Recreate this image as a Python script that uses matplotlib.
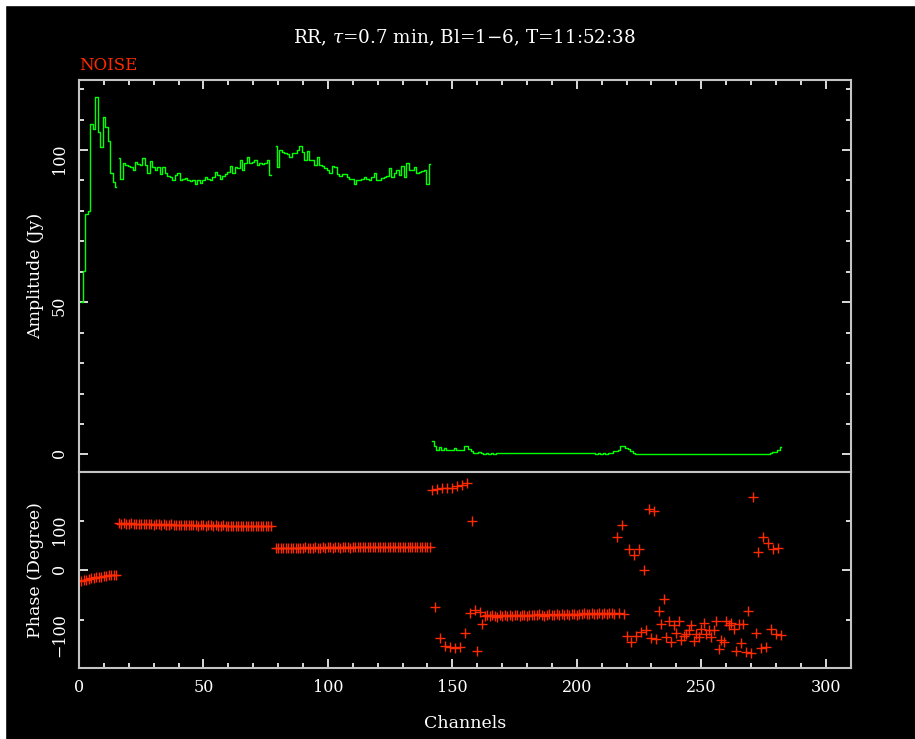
#!/usr/bin/env python3

"""
Amplitude and phase per channel for one baseline (RR, noise source),
drawn in the old PGPLOT look: black page, grey frame, green steps, red crosses.
"""

import numpy as np
import matplotlib
matplotlib.use('Agg')
from matplotlib import pyplot as plt
from matplotlib.patches import Rectangle
from matplotlib.ticker import MultipleLocator, FixedLocator, FuncFormatter

plt.rcParams['font.family'] = 'DejaVu Serif'
plt.rcParams['mathtext.fontset'] = 'dejavuserif'
plt.rcParams['axes.unicode_minus'] = True

#### DATA ####
title = r'RR, $\tau$=0.7 min, Bl=1$-$6, T=11:52:38'
source = 'NOISE'

# first channel of each block (gaps are flagged channels)
start_a, start_b, start_c, start_d = 1, 16, 79, 142

amp_a = [50, 60.4, 79, 80, 108.6, 107, 117.4, 106, 101, 111, 107.7, 103, 92.5, 89.5, 88]
amp_b = [97.4, 90.6, 95.6, 95.0, 94.7, 94.3, 93.6, 96.1, 95.4, 95.0,
         97.5, 95.0, 92.6, 96.4, 94.3, 93.6, 94.3, 92.0, 94.5, 92.5,
         91.5, 91.2, 90.1, 91.7, 92.5, 90.1, 90.4, 90.9, 90.1, 89.8,
         90.1, 88.7, 90.3, 89.2, 90.3, 91.0, 90.6, 90.1, 91.2, 92.8,
         91.7, 90.6, 91.4, 92.0, 92.8, 94.7, 92.5, 94.5, 94.0, 96.7,
         93.6, 95.8, 97.8, 95.8, 96.1, 96.7, 95.0, 95.6, 95.3, 95.6,
         96.7, 91.7]
amp_c = [101.4, 94.5, 100, 99.5, 99.1, 98.7, 97.8, 98.9, 98.9, 100,
         101.3, 99.5, 96.7, 99.8, 96.7, 96.7, 95, 97.6, 95, 94.7,
         94, 93.4, 92.5, 94.7, 94.5, 92, 91.4, 92, 92, 91.2,
         90.6, 90.6, 88.7, 90.3, 90.1, 90.6, 91.2, 90.6, 90.1, 91.2,
         92.3, 90.1, 90.3, 90.9, 91.2, 91.4, 94, 91.2, 92.5, 93.6,
         91.7, 94.7, 91.2, 95.6, 93.6, 93.6, 94.3, 92.3, 92.8, 93.2,
         93.6, 88.8, 95.4]
amp_d = [4.5, 2.7, 1.3, 2.6, 1.4, 2.2, 1.5, 1.6, 1.4, 2.0,
         1.5, 1.6, 1.4, 2.9, 2.7, 1.8, 1.2, 0.5, 0.6, 0.9,
         0.5, 0.3, 0.6, 0.3, 0.6, 0.3, 0.6, 0.6, 0.6, 0.6,
         0.6, 0.6, 0.6, 0.6, 0.6, 0.6, 0.6, 0.6, 0.6, 0.6,
         0.6, 0.6, 0.6, 0.6, 0.6, 0.6, 0.6, 0.6, 0.6, 0.6,
         0.6, 0.6, 0.6, 0.6, 0.6, 0.6, 0.6, 0.6, 0.6, 0.6,
         0.6, 0.6, 0.6, 0.6, 0.6, 0.5, 0.3, 0.6, 0.3, 0.5,
         0.3, 0.6, 0.6, 1.2, 1.2, 1.4, 2.85, 2.8, 2.0, 1.8,
         1.0, 0.6, 0.3, 0.3, 0.3, 0.3, 0.3, 0.3, 0.3, 0.3,
         0.3, 0.3, 0.3, 0.3, 0.3, 0.3, 0.3, 0.3, 0.3, 0.3,
         0.3, 0.3, 0.3, 0.3, 0.3, 0.3, 0.3, 0.3, 0.3, 0.3,
         0.3, 0.3, 0.3, 0.3, 0.3, 0.3, 0.3, 0.3, 0.3, 0.3,
         0.3, 0.3, 0.3, 0.3, 0.3, 0.3, 0.3, 0.3, 0.05, 0.0,
         0.3, 0.05, 0.3, 0.3, 0.3, 0.3, 0.4, 0.8, 0.9, 1.5,
         2.3]

ph_a = [-21, -19, -20, -17, -16, -16, -14, -13, -13, -12, -11, -10, -10, -9, -9]
ph_b = [96, 95, 96, 95, 95, 96, 94, 95, 95, 94,
        95, 94, 94, 95, 93, 94, 94, 93, 94, 93,
        93, 94, 92, 93, 93, 92, 93, 92, 93, 92,
        92, 93, 91, 92, 92, 91, 92, 92, 91, 92,
        91, 91, 92, 91, 91, 90, 91, 91, 90, 91,
        91, 90, 91, 90, 90, 91, 90, 90, 91, 90,
        90, 90]
ph_c = [45, 46, 45, 46, 46, 45, 46, 46, 46, 45,
        46, 46, 47, 46, 46, 46, 47, 46, 46, 47,
        46, 47, 47, 46, 47, 47, 46, 47, 47, 47,
        46, 47, 47, 47, 48, 47, 47, 47, 48, 47,
        47, 48, 47, 47, 48, 47, 48, 47, 48, 48,
        47, 48, 48, 47, 48, 48, 48, 47, 48, 48,
        48, 48, 47]
ph_d = [163, -75, 165, -137, 167, -154, 167, -156, 167, -158,
        172, -156, 175, -128, 179, -87, 100, -80, -163, -85,
        -109,
        -92, -90, -93, -91, -92, -94, -91, -92, -90, -93,
        -91, -92, -90, -91, -93, -90, -91, -92, -90, -91,
        -90, -91, -89, -90, -92, -90, -89, -91, -90, -89,
        -90, -88, -90, -89, -91, -88, -89, -90, -88, -89,
        -87, -89, -88, -87, -89, -88, -86, -88, -87, -89,
        -87, -86, -88,
        69, -87, 92, -88, -133, 44, -146, 32, -134, 44,
        -125, 0, -122, 126, -138, 122, -140, -82, -109, -58,
        -136, -102, -146, -112, -128, -102, -141,
        -133, -129, -121, -112, -143, -129, -135, -119, -106, -129,
        -122, -135, -121, -102, -160, -141, -146, -102, -112, -107,
        -120, -163, -110, -147, -110, -166, -82, -168, 150, -127,
        37, -158, 68, -156, 56, -119, 43, -129, 46, -131]

amp_blocks = [(start_a, amp_a), (start_b, amp_b), (start_c, amp_c), (start_d, amp_d)]
ph_blocks = [(start_a, ph_a), (start_b, ph_b), (start_c, ph_c), (start_d, ph_d)]

#### COLOURS ####
GREEN = '#00ff00'
RED = '#ff2a00'
FRAME = '#c4c4c4'
W, H = 915, 739


def style_axes(ax):
    ax.set_facecolor('black')
    for sp in ax.spines.values():
        sp.set_color(FRAME)
        sp.set_linewidth(1.5)
    ax.tick_params(which='both', direction='in', color='white', labelcolor='white',
                   width=1.2, labelsize=11.5, pad=8)
    ax.tick_params(which='major', length=6.5)
    ax.tick_params(which='minor', length=3.3)
    ax.tick_params(axis='y', which='both', left=True, right=True, labelrotation=90)


fig = plt.figure(figsize=(W / 100, H / 100), dpi=100, facecolor='black')
# white strip left and top, as in the screenshot
fig.add_artist(Rectangle((0, 0), 5 / W, 1, transform=fig.transFigure, color='white', zorder=-5))
fig.add_artist(Rectangle((0, 1 - 5 / H), 1, 5 / H, transform=fig.transFigure, color='white', zorder=-5))

ax_amp = fig.add_axes([79 / W, 1 - 471.5 / H, 771.5 / W, 391.5 / H])
ax_ph = fig.add_axes([79 / W, 1 - 668 / H, 771.5 / W, 196.5 / H], sharex=ax_amp)

#### AMPLITUDE ####
for start, amp in amp_blocks:
    ch = np.arange(start, start + len(amp))
    ax_amp.step(ch, amp, where='mid', color=GREEN, lw=1.0)

style_axes(ax_amp)
ax_amp.set_xlim(0, 310)
ax_amp.set_ylim(-5.6, 123)
ax_amp.xaxis.set_major_locator(MultipleLocator(50))
ax_amp.xaxis.set_minor_locator(MultipleLocator(10))
ax_amp.yaxis.set_major_locator(MultipleLocator(50))
ax_amp.yaxis.set_minor_locator(MultipleLocator(10))
ax_amp.tick_params(axis='x', which='both', top=True, bottom=False, labelbottom=False)
ax_amp.set_ylabel('Amplitude (Jy)', color='white', fontsize=12.5)
ax_amp.yaxis.set_label_coords(-0.045, 0.5)

#### PHASE ####
for start, ph in ph_blocks:
    ch = np.arange(start, start + len(ph))
    ax_ph.plot(ch, ph, ls='none', marker='+', color=RED, ms=7.5, mew=1.0)

style_axes(ax_ph)
ax_ph.set_ylim(-198.6, 201.6)
ax_ph.yaxis.set_major_locator(FixedLocator([0]))
ax_ph.yaxis.set_minor_locator(FixedLocator([-100, 100]))
minus_fmt = FuncFormatter(lambda v, p: f'{v:.0f}'.replace('-', '\u2212'))
ax_ph.yaxis.set_major_formatter(minus_fmt)
ax_ph.yaxis.set_minor_formatter(minus_fmt)
ax_ph.tick_params(axis='x', which='both', top=False, bottom=True, labelbottom=True)
ax_ph.set_ylabel('Phase (Degree)', color='white', fontsize=12.5)
ax_ph.yaxis.set_label_coords(-0.045, 0.5)
ax_ph.set_xlabel('Channels', color='white', fontsize=12.5)
ax_ph.xaxis.set_label_coords(0.5, -0.239)

#### TEXTS ####
fig.text(464.5 / W, 1 - 38 / H, title, ha='center', va='center', color='white', fontsize=13.2)
fig.text(79 / W, 1 - 65 / H, source, ha='left', va='center', color=RED, fontsize=12)

fig.savefig('out.png', dpi=100, facecolor=fig.get_facecolor())
